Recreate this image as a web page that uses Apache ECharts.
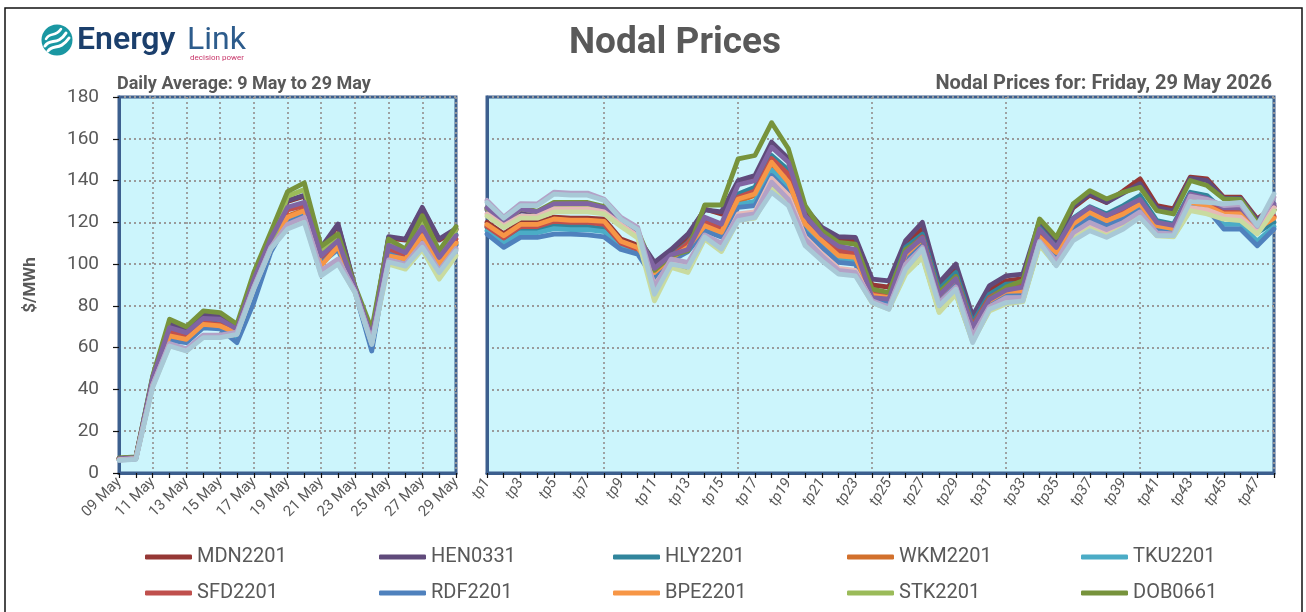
<!DOCTYPE html>
<html><head><meta charset="utf-8">
<script src="https://cdn.jsdelivr.net/npm/echarts@6/dist/echarts.min.js"></script>
<style>html,body{margin:0;padding:0;background:#fff}#c{width:1306px;height:612px}</style>
</head><body><div id="c"></div><script>
// ---------- categories / tick labels ----------
const days = ['09 May','10 May','11 May','12 May','13 May','14 May','15 May','16 May','17 May','18 May','19 May','20 May','21 May','22 May','23 May','24 May','25 May','26 May','27 May','28 May','29 May'];
const tps = ['tp1','tp2','tp3','tp4','tp5','tp6','tp7','tp8','tp9','tp10','tp11','tp12','tp13','tp14','tp15','tp16','tp17','tp18','tp19','tp20','tp21','tp22','tp23','tp24','tp25','tp26','tp27','tp28','tp29','tp30','tp31','tp32','tp33','tp34','tp35','tp36','tp37','tp38','tp39','tp40','tp41','tp42','tp43','tp44','tp45','tp46','tp47','tp48'];
const yTicks = [0,20,40,60,80,100,120,140,160,180];

// ---------- daily averages ($/MWh) ----------
const dMDN = [7,7.5,45,71.5,68,75.5,75,69.5,93.5,113,130,132.5,107.5,118.5,89,65.5,112.5,111.5,126.5,111.5,116.5];
const dHEN = [7,7.5,46,72,68.5,76,75.5,70,94,113.5,130.4,133,108,119.2,89.2,66,113.1,112,127.2,112,117];
const dHLY = [6.8,7.3,44.5,68,65.5,72,71.5,67.5,91,111,127,129,105,112,88.5,64.5,108,106,119,104.5,114];
const dWKM = [6.7,7.2,44,66,64.5,71.5,70.8,67,90,110,123,126,100,109,88,64,105,103,114.5,100.5,110.5];
const dTKU = [6.5,7,43,64.5,63,70,69.5,64,86,107,121,124,101,108,87.5,62,106,102.5,113,99.5,109.5];
const dSFD = [6.7,7.2,44,67.5,65,72,71,67,90.5,110.5,126,128,103,110.5,88.2,64,107,104,116,102,112];
const dRDF = [6.3,6.8,42.5,63.5,62.4,69.5,69,62.4,81.6,105.6,120,123,100.5,107,87,58.4,105,102,112,99,109];
const dBPE = [6.6,7.1,43.5,65.6,64,71.2,70.4,67,90,110,122.4,125.6,99.2,108.5,88,64,104,102.4,113.6,100,110];
const dSTK = [6.8,7.3,44,61.5,59,65.5,65.5,67,89,108,132.5,135.7,107,113,87.5,67,111,106,121.5,105,116.5];
const dDOB = [7.2,7.7,46.5,73.6,70,77.6,76.8,71.2,96,115.2,134.7,138.9,108.5,114.4,89.6,68.8,112,107.2,123.2,106.4,118];
const dOTA = [6.9,7.4,45.5,69.6,67.2,74,73.6,68.8,92.5,112,127.2,129.6,104,111.2,88.8,65,109,105.5,117.6,103.2,113.6];
const dISL = [6.4,6.9,42,61.5,59,65.5,65.5,67,88.5,107.5,118.5,122,96.5,102,86.8,62.5,101,99,109,96.5,107];
const dINV = [6.3,6.8,41.5,61,58.5,65,65,66.5,88.5,107.5,118,121,95,100.5,86.5,62,100,97.6,107,92.8,104];
const dBEN = [6.2,6.7,42,62,59.5,66,66,67.5,89,108,119,122.5,97,102.4,87,63,102,100,110,97,107.5];
const dTWI = [6,6.5,41,60.8,58.4,64.8,64.8,66.4,88,107.2,116.8,120,94.4,100,86.4,61.5,101,99,108,96,106.4];

// ---------- trading-period prices, Friday 29 May ($/MWh) ----------
const tMDN = [120,114.5,120,120,122.5,122,122,121.5,112,109,99.5,106,113,126.4,124,139,141.5,157.5,150,126,116.5,111,111,90,89,109,117,89.5,98,73,87.5,92,93,120,110.5,127,133,129.5,135,140.8,128,126.4,141.6,140.8,132,132,121.6,127.5];
const tHEN = [126,119,125.5,124.5,128,128,128,126.5,118.5,113,100.8,107,114.4,126,125,140,142.4,158.4,150.5,127,117.6,113.1,112.8,92.8,92,111.2,120,91.2,100,75.2,89.6,94.4,95.2,120.8,111.2,127.5,133.6,129.6,134,138.5,127,125.5,141,140,131.5,131.5,121,128];
const tHLY = [117.6,111.5,116.8,116.8,118.4,118,118,117,109,106,97,104,110.4,121,118,133.6,136.8,152,145,122,113,107.5,106,87,86,108,114.4,88,96,72,85.6,90.4,91,117.5,108,122,127.5,124,128,132.8,120.8,119.2,134.4,132.8,125.5,125,115,120];
const tWKM = [118.5,113,118.5,118.5,121,120.5,120.5,120,110.5,107.5,95.5,103,108.5,119,116,130,133,148,140,119,111,104.5,103.5,85.5,84.5,105,112.5,85.5,93.5,69.5,83,87.5,88,114,106.5,120,125.5,121.5,125,129.5,119,117.5,130.5,129,124.5,124.5,117,122.5];
const tTKU = [116,110,115,115,117,116.5,116.5,115.5,108,105.5,94,102,107,117,114,128.5,130,145,137,117,109.5,102,101.5,84,83,103.5,111,84,92,68,82,86,86.5,113,104,118,123,119.5,122.5,127,117,115.5,128,127.5,119,119,111,118];
const tSFD = [118,112.5,118,118,120.5,120,120,119,110,107,96.5,103.5,110,120,117,132,135,150.5,143,121,112,106.4,105,86,85,106,113,85.6,94,70.5,84,88.5,89.5,115,107,120.5,126,122,125.5,130,119.5,118,131,130,125,124.5,117,123];
const tRDF = [114.4,108,112.8,112.8,114.4,114.4,114,113,107,104.8,92.8,101.5,106,116,113,127.2,128,142.4,134.4,115.2,108,100.8,100,83,82,102.5,110,83.5,91.5,67.5,81.5,86,86,112,103,117,122,118.5,121.5,126,116,114.5,127,126.4,116.8,116.8,108.8,116.8];
const tBPE = [119,113.6,119,119,121.6,121,121,120.5,111,108,96,103,108,118.4,115.2,131.2,133.6,148.8,139.2,119.2,111.2,104,103.2,85,84,104.5,112,85,93,69,82.5,87,87.2,112.8,105.6,119.2,124.8,120.8,124,128.8,118.4,117,129.6,128,124,124,117,122];
const tSTK = [126.5,119.5,126.5,125,128.5,128.5,128.5,127,120.5,115,84,99,97,112.5,106.5,121.5,122.5,136.5,129.5,110.5,103,96.5,95.5,82,79,96,104,77.5,86,63.5,78,81.5,82.5,109.5,100,112.5,117.5,114,118,123,114,113.5,126,124.5,122,121.5,115,126];
const tDOB = [127,120,127,125.3,129.5,129.5,129.5,127.5,121.6,116,97,104,106.4,128.3,128.3,150.4,152,167.7,155.2,128,116,110.4,109.6,88,86.4,107,112,86.5,94,69.6,83.2,89,92,121.6,112.8,128.8,135.2,131.2,134.4,136.8,125.6,124,140,137.6,131.2,131,120,126];
const tOTA = [127,120,126.5,125,128.8,129,129,127,120,114.5,98,104.5,107,122.4,119.2,138,140,156,148.8,123.2,114,108.5,107,84,83.2,105.5,112.5,85,93,69.5,83,87.5,89,116.8,108,121.6,127.2,123.2,127,131,120,118.5,133.5,131.5,127,127,118.4,128.8];
const tISL = [124,118.4,123,122.9,126.4,126.4,126.4,125,119,113.5,90,101,99.5,113.5,108.5,124,125,141,133,113,105,98,97,82,79,99,106,81,88.5,65,79,83,83.5,110.5,101,114,119,115.5,119,124,114.5,114,127,126,123,122.5,115.5,127];
const tINV = [123,117.5,122,122,125,125,125,124,118,112.5,82.4,98.4,96,112,106,121,122,136,129,110,102.5,96,95,81.5,78.5,95.2,103.2,76.8,85.6,63,77.5,81,82,109,99.5,112,117,113.5,117.5,122.5,113.5,113,125.6,124,121.5,120.8,114.4,125.5];
const tBEN = [130.5,122.5,129,128.8,134.4,134,134,131,122.4,117.6,89,102.4,100.8,114,110,123,124,139.2,131,112,104,97,96,82.5,79.5,100,108,81.5,89,65.5,79.5,84,84,111,101.5,115,120,116.5,120,125,115,114.5,132.5,131,128,128.5,118,132];
const tTWI = [129.5,122,128,128,133.5,133,133,130.5,121.5,116.5,85.6,100,98.5,113,107.2,120.8,122.4,134.4,128,108.8,101.6,95.2,94.4,81.6,78.4,97.6,107.2,80,88,62.4,78.4,81.6,82.4,110.4,99.2,111.2,116,112.8,116.8,122.4,113.6,113.6,130,129.6,128.8,129.6,118.5,133.6];

const nodes = [
  {name:'MDN2201', color:'#953735', d:dMDN, t:tMDN},
  {name:'HEN0331', color:'#604a7b', d:dHEN, t:tHEN},
  {name:'HLY2201', color:'#31859c', d:dHLY, t:tHLY},
  {name:'WKM2201', color:'#d2702c', d:dWKM, t:tWKM},
  {name:'TKU2201', color:'#4bacc6', d:dTKU, t:tTKU},
  {name:'SFD2201', color:'#c0504d', d:dSFD, t:tSFD},
  {name:'RDF2201', color:'#4f81bd', d:dRDF, t:tRDF},
  {name:'BPE2201', color:'#f79646', d:dBPE, t:tBPE},
  {name:'STK2201', color:'#9bbb59', d:dSTK, t:tSTK},
  {name:'DOB0661', color:'#77933c', d:dDOB, t:tDOB},
  {name:'OTA2201', color:'#8064a2', d:dOTA, t:tOTA},
  {name:'ISL2201', color:'#e6b9b8', d:dISL, t:tISL},
  {name:'INV2201', color:'#c9dba0', d:dINV, t:tINV},
  {name:'BEN2201', color:'#b3a2c7', d:dBEN, t:tBEN},
  {name:'TWI2201', color:'#a8c8d6', d:dTWI, t:tTWI}
];
const legendNames = ['MDN2201','HEN0331','HLY2201','WKM2201','TKU2201','SFD2201','RDF2201','BPE2201','STK2201','DOB0661'];

const FONT = 'Roboto';
const GREY = '#595959';
const BORDER = '#3c5f8e';
const PLOT_BG = '#ccf5fc';
const dotted = {type:[2,3], color:'#9a9a9a', width:1.8};

const series = [];
nodes.forEach(n => {
  const base = {name:n.name, type:'line', symbol:'none', showSymbol:false, smooth:false,
    lineStyle:{width:4.8, color:n.color, cap:'round', join:'round'}, itemStyle:{color:n.color}};
  series.push(Object.assign({}, base, {xAxisIndex:0, yAxisIndex:0, data:n.d}));
  series.push(Object.assign({}, base, {xAxisIndex:1, yAxisIndex:1, data:n.t}));
});

const chart = echarts.init(document.getElementById('c'), null, {renderer:'canvas'});
chart.setOption({
  animation:false,
  backgroundColor:'#ffffff',
  textStyle:{fontFamily:FONT},
  color: nodes.map(n=>n.color),
  grid:[
    {left:119, top:97, width:337, height:376, show:true, backgroundColor:PLOT_BG, borderColor:BORDER, borderWidth:3},
    {left:487, top:97, width:787, height:376, show:true, backgroundColor:PLOT_BG, borderColor:BORDER, borderWidth:3}
  ],
  xAxis:[
    {type:'category', gridIndex:0, data:days, boundaryGap:false,
     axisLine:{show:true, lineStyle:{color:BORDER, width:3}},
     axisTick:{show:true, interval:0, length:5, lineStyle:{color:'#111', width:1.2}},
     axisLabel:{interval:1, rotate:45, fontSize:15, color:GREY, margin:7, fontFamily:FONT},
     splitLine:{show:true, interval:1, lineStyle:dotted}},
    {type:'category', gridIndex:1, data:tps, boundaryGap:false,
     axisLine:{show:true, lineStyle:{color:BORDER, width:3}},
     axisTick:{show:true, interval:0, length:5, lineStyle:{color:'#111', width:1.2}},
     axisLabel:{interval:1, rotate:58, fontSize:15, color:GREY, margin:7, fontFamily:FONT, fontStyle:'italic'},
     splitLine:{show:true, interval:function(i){return i % 8 === 7;}, lineStyle:dotted}}
  ],
  yAxis:[
    {type:'value', gridIndex:0, min:yTicks[0], max:yTicks[yTicks.length-1], interval:20,
     axisLine:{show:true, lineStyle:{color:BORDER, width:3}},
     axisTick:{show:true, length:6, lineStyle:{color:'#111', width:1.2}},
     axisLabel:{fontSize:19, color:GREY, margin:20, fontFamily:FONT},
     splitLine:{show:true, lineStyle:dotted},
     name:'$/MWh', nameLocation:'middle', nameRotate:90, nameGap:80,
     nameTextStyle:{fontSize:17, fontWeight:'bold', color:GREY, fontFamily:FONT}},
    {type:'value', gridIndex:1, min:yTicks[0], max:yTicks[yTicks.length-1], interval:20,
     axisLine:{show:true, lineStyle:{color:BORDER, width:3}},
     axisTick:{show:false}, axisLabel:{show:false},
     splitLine:{show:true, lineStyle:dotted}}
  ],
  legend:{
    data:legendNames, left:145, top:545, width:1180, padding:0,
    icon:'roundRect', itemWidth:47, itemHeight:5, itemGap:12,
    textStyle:{fontSize:20, color:GREY, fontFamily:FONT, width:170, lineHeight:24}
  },
  graphic:[
    {type:'rect', shape:{x:5, y:8, width:1297, height:640}, style:{fill:'none', stroke:'#111', lineWidth:1.5}, silent:true, z:-10},
    // logo
    {type:'circle', shape:{cx:57, cy:40, r:15.5}, style:{fill:'#1a97a2'}},
    {type:'bezierCurve', shape:{x1:45, y1:46, cpx1:50, cpy1:38, cpx2:58, cpy2:46, x2:66, y2:33}, style:{stroke:'#fff', lineWidth:3, fill:'none', lineCap:'round'}},
    {type:'bezierCurve', shape:{x1:48, y1:51, cpx1:53, cpy1:44, cpx2:60, cpy2:51, x2:69, y2:38}, style:{stroke:'#fff', lineWidth:3, fill:'none', lineCap:'round'}},
    {type:'bezierCurve', shape:{x1:46, y1:39, cpx1:50, cpy1:31, cpx2:55, cpy2:38, x2:61, y2:29}, style:{stroke:'#fff', lineWidth:2.5, fill:'none', lineCap:'round'}},
    {type:'text', x:77, y:41, style:{text:'Energy', font:'600 32px Roboto', fill:'#1b3f6c', textVerticalAlign:'middle', textAlign:'left'}},
    {type:'text', x:187, y:41, style:{text:'Link', font:'400 32px Roboto', fill:'#2d5c8c', textVerticalAlign:'middle', textAlign:'left'}},
    {type:'text', x:190, y:58, style:{text:'decision power', font:'400 8px Roboto', fill:'#c8366a', textVerticalAlign:'middle', textAlign:'left'}},
    // titles
    {type:'text', x:675, y:44, style:{text:'Nodal Prices', font:'bold 37px Roboto', fill:GREY, textAlign:'center', textVerticalAlign:'middle'}},
    {type:'text', x:117, y:84, style:{text:'Daily Average: 9 May to 29 May', font:'bold 18px Roboto', fill:GREY, textAlign:'left', textVerticalAlign:'middle'}},
    {type:'text', x:1272, y:84, style:{text:'Nodal Prices for: Friday, 29 May 2026', font:'bold 20px Roboto', fill:GREY, textAlign:'right', textVerticalAlign:'middle'}}
  ],
  series: series
});
</script></body></html>
